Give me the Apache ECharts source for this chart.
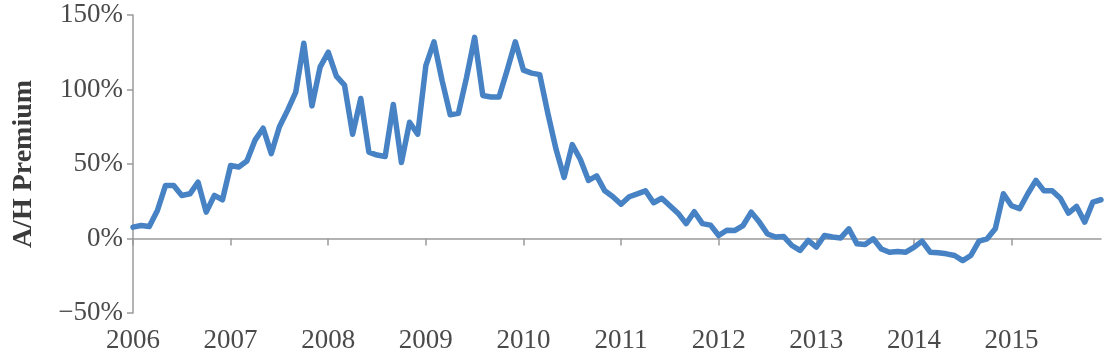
<!DOCTYPE html>
<html>
<head>
<meta charset="utf-8">
<script src="https://cdn.jsdelivr.net/npm/echarts@6/dist/echarts.min.js"></script>
<style>
html,body{margin:0;padding:0;background:#fff;}
#chart{width:1113px;height:363px;}
</style>
</head>
<body>
<div id="chart"></div>
<script>
// Monthly A/H premium (%), Jan..Dec of each year
const years = [2006, 2007, 2008, 2009, 2010, 2011, 2012, 2013, 2014, 2015];
const v2006 = [7.6, 8.7, 8, 18.8, 35.6, 35.6, 28.9, 30, 37.8, 17.7, 28.9, 26];
const v2007 = [49, 48, 52, 66, 74, 57, 75, 86, 98, 131, 89, 115];
const v2008 = [125, 109, 103, 70, 94, 58, 56, 55, 90, 51, 78, 70];
const v2009 = [116, 132, 106, 83, 84, 108, 135, 96, 95, 95, 113, 132];
const v2010 = [113, 111, 110, 84, 60, 41, 63, 53, 39, 42, 32, 28];
const v2011 = [23, 28, 30, 32, 24, 27, 22, 17, 10, 18, 10, 9];
const v2012 = [2, 5.5, 5.4, 8.7, 17.7, 11, 3, 1, 1.3, -4.7, -8, -1.3];
const v2013 = [-5.8, 2, 1, 0.4, 6.5, -3.6, -4, -0.2, -7, -9.2, -8.7, -9.2];
const v2014 = [-6, -1.8, -9.2, -9.6, -10.3, -11.4, -14.8, -11.4, -1.8, -0.2, 6.5, 30];
const v2015 = [22, 20, 30, 39, 32, 32, 27, 17, 21.5, 11, 24.4, 26];
const yTicks = [-50, 0, 50, 100, 150];

const values = [].concat(v2006, v2007, v2008, v2009, v2010, v2011, v2012, v2013, v2014, v2015);
const months = [];
years.forEach(y => { for (let m = 1; m <= 12; m++) months.push(y + '-' + (m < 10 ? '0' + m : m)); });

const chart = echarts.init(document.getElementById('chart'));
const font = '"Liberation Serif", "DejaVu Serif", serif';
chart.setOption({
  animation: false,
  grid: { left: 133, right: 12, top: 15, bottom: 50, containLabel: false },
  xAxis: {
    type: 'category',
    data: months,
    boundaryGap: false,
    axisLine: { lineStyle: { color: '#9a9a9a', width: 1.5 } },
    axisTick: { show: true, interval: 11, length: 7, lineStyle: { color: '#9a9a9a', width: 1.5 } },
    axisLabel: {
      interval: 11, margin: 14,
      fontFamily: font, fontSize: 27, color: '#4a4a4a',
      formatter: v => v.slice(0, 4)
    },
    splitLine: { show: false }
  },
  yAxis: {
    type: 'value',
    min: yTicks[0], max: yTicks[yTicks.length - 1], interval: 50,
    name: 'A/H Premium',
    nameLocation: 'middle',
    nameGap: 95,
    nameTextStyle: { fontFamily: font, fontSize: 28, fontWeight: 'bold', color: '#3a3a3a' },
    axisLine: { show: true, lineStyle: { color: '#9a9a9a', width: 1.5 } },
    axisTick: { show: true, length: 6, lineStyle: { color: '#9a9a9a', width: 1.5 } },
    axisLabel: {
      margin: 10,
      fontFamily: font, fontSize: 27, color: '#4a4a4a',
      padding: [6, 0, 0, 0],
      formatter: v => (v < 0 ? '\u2212' + Math.abs(v) : v) + '%'
    },
    splitLine: { show: false }
  },
  series: [{
    type: 'line',
    data: values,
    symbol: 'none',
    smooth: false,
    lineStyle: { color: '#4682c4', width: 5.5, cap: 'round', join: 'round' }
  }]
});
</script>
</body>
</html>
